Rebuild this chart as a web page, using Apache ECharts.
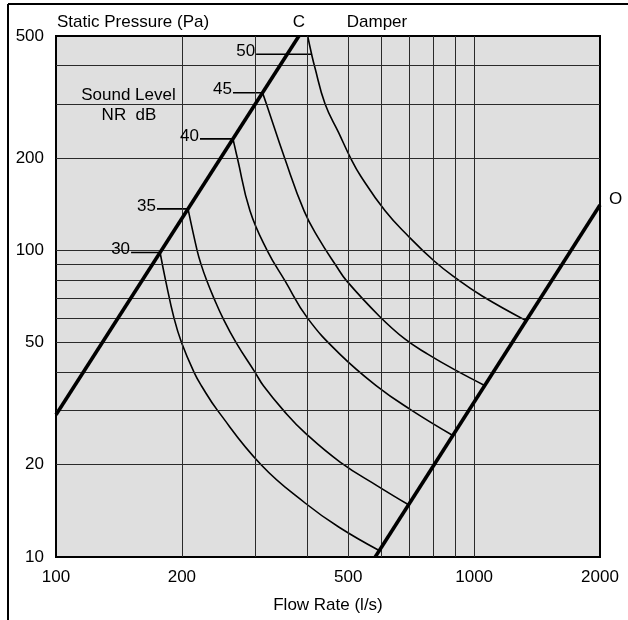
<!DOCTYPE html>
<html>
<head>
<meta charset="utf-8">
<script src="https://cdn.jsdelivr.net/npm/echarts@6/dist/echarts.min.js"></script>
<style>
  html, body { margin: 0; padding: 0; background: #ffffff; }
  #chart { width: 628px; height: 620px; }
</style>
</head>
<body>
<div id="chart"></div>
<script>
// Axis ticks (labelled) and grid values, flow rate in l/s, pressure in Pa
const flowTicks = [100, 200, 500, 1000, 2000];
const pressureTicks = [10, 20, 50, 100, 200, 500];
const flowGrid = [200, 300, 400, 500, 600, 700, 800, 900, 1000];
const pressureGrid = [20, 30, 40, 50, 60, 70, 80, 90, 100, 200, 300, 400];

// Damper characteristic: C = closed, O = open  [flow, pressure]
const damperClosed = [[100, 29.1], [381, 500]];
const damperOpen = [[580, 10], [2000, 140.6]];

// Sound level curves, NR dB  [flow, pressure]
const nr30 = [[177.4, 98.4], [182.8, 80], [191.6, 60], [199.7, 50], [213.9, 40], [222.9, 36.1], [244.1, 29.9], [309.4, 20], [394.2, 15], [475.4, 12.5], [592.7, 10.5]];
const nr35 = [[206.9, 136.5], [217.5, 100], [222.3, 90], [229.1, 80], [238.4, 70], [250.9, 60], [269.6, 50], [299.3, 40], [313.7, 36.1], [351.2, 29.9], [394.2, 25.4], [478, 20.4], [589.3, 17], [697, 14.8]];
const nr40 = [[265, 231], [271.5, 200], [291, 134.5], [319.8, 100], [353, 79.5], [400, 60], [478, 45.8], [585, 36.1], [703, 30.3], [889.5, 24.9]];
const nr45 = [[311.9, 326.6], [318.6, 300], [352.2, 200], [392, 134.5], [423.6, 110], [471.5, 87.6], [495.5, 79.5], [592.7, 61.1], [683.9, 51.3], [776.2, 45.8], [895.6, 40.9], [1062, 36.2]];
const nr50 = [[399.8, 500], [408.6, 436.1], [415, 400], [440.1, 300], [474.2, 242], [506.5, 200], [535.3, 174.8], [612.4, 134.5], [695.3, 111.4], [802.4, 92.3], [900.6, 81.5], [1045, 71], [1334.6, 58.9]];

// Curve labels and their leader lines (start flow, end flow, pressure)
const nrLabels = ['30', '35', '40', '45', '50'];
const leaderStart = [151.2, 174.4, 221, 265, 301];
const leaderEnd = [177.4, 206.9, 265, 311.9, 408.6];
const leaderPressure = [98.4, 136.5, 231, 326.6, 436.1];

const FONT = "'Liberation Sans', Arial, Helvetica, sans-serif";
const chart = echarts.init(document.getElementById('chart'), null, { renderer: 'canvas' });

const curveSeries = [nr30, nr35, nr40, nr45, nr50].map((d, i) => ({
  name: 'NR ' + nrLabels[i],
  type: 'line',
  data: d,
  smooth: 0.45,
  showSymbol: false,
  symbol: 'none',
  lineStyle: { color: '#000', width: 1.6 },
  z: 4,
  silent: true
}));

const leaderSeries = nrLabels.map((t, i) => ({
  name: 'leader ' + t,
  type: 'line',
  data: [[leaderStart[i], leaderPressure[i]], [leaderEnd[i], leaderPressure[i]]],
  showSymbol: false,
  symbol: 'none',
  lineStyle: { color: '#000', width: 1.6 },
  z: 4,
  silent: true
}));

const textLabel = { color: '#000', fontSize: 17, fontFamily: FONT, opacity: 1 };

const labelSeries = {
  name: 'levels',
  type: 'scatter',
  symbolSize: 0,
  itemStyle: { color: '#000', opacity: 1 },
  silent: true,
  z: 6,
  data: nrLabels.map((t, i) => ({
    value: [leaderStart[i], leaderPressure[i]],
    label: Object.assign({ show: true, formatter: t, position: 'left', distance: 1, offset: [0, -3] }, textLabel)
  }))
};

const damperLabelSeries = {
  name: 'damper ends',
  type: 'scatter',
  symbolSize: 0,
  itemStyle: { color: '#000', opacity: 1 },
  silent: true,
  z: 6,
  clip: false,
  data: [
    { value: damperClosed[1], label: Object.assign({ show: true, formatter: 'C', position: 'top', distance: 5 }, textLabel) },
    { value: damperOpen[1], label: Object.assign({ show: true, formatter: 'O', position: 'right', distance: 9, offset: [0, -6] }, textLabel) }
  ]
};

const gridLineSeries = {
  name: 'grid lines',
  type: 'line',
  data: [],
  silent: true,
  z: 2,
  markLine: {
    silent: true,
    symbol: ['none', 'none'],
    animation: false,
    label: { show: false },
    lineStyle: { color: '#2a2a2a', width: 1, type: 'solid' },
    emphasis: { disabled: true },
    data: flowGrid.map(v => ({ xAxis: v })).concat(pressureGrid.map(v => ({ yAxis: v })))
  }
};

const damperStyle = { color: '#000', width: 3.6 };

const option = {
  animation: false,
  backgroundColor: '#ffffff',
  textStyle: { fontFamily: FONT },
  grid: {
    left: 56, right: 28, top: 36, bottom: 63,
    show: true,
    backgroundColor: '#dfdfdf',
    borderColor: '#000',
    borderWidth: 2
  },
  xAxis: {
    type: 'log',
    logBase: 10,
    min: 100,
    max: 2000,
    name: 'Flow Rate (l/s)',
    nameLocation: 'middle',
    nameGap: 40,
    nameTextStyle: { color: '#000', fontSize: 17, fontFamily: FONT },
    axisLine: { show: false },
    axisTick: { show: false, customValues: flowTicks },
    splitLine: { show: false },
    axisLabel: { color: '#000', fontSize: 17, fontFamily: FONT, margin: 12, customValues: flowTicks, formatter: v => String(Math.round(v)) }
  },
  yAxis: {
    type: 'log',
    logBase: 10,
    min: 10,
    max: 500,
    axisLine: { show: false },
    axisTick: { show: false, customValues: pressureTicks },
    splitLine: { show: false },
    axisLabel: { color: '#000', fontSize: 17, fontFamily: FONT, margin: 12, customValues: pressureTicks, formatter: v => String(Math.round(v)) }
  },
  graphic: [
    { type: 'line', shape: { x1: 8, y1: 4, x2: 628, y2: 4 }, style: { stroke: '#000', lineWidth: 2 }, silent: true },
    { type: 'line', shape: { x1: 8, y1: 4, x2: 8, y2: 620 }, style: { stroke: '#000', lineWidth: 2 }, silent: true },
    { type: 'text', left: 57, top: 14, silent: true,
      style: { text: 'Static Pressure (Pa)', fill: '#000', font: '17px ' + FONT } },
    { type: 'text', x: 377, y: 22.5, silent: true,
      style: { text: 'Damper', fill: '#000', font: '17px ' + FONT, align: 'center', verticalAlign: 'middle' } },
    { type: 'text', x: 128.5, y: 95.5, silent: true, z: 10,
      style: { text: 'Sound Level', fill: '#000', font: '17px ' + FONT, align: 'center', verticalAlign: 'middle' } },
    { type: 'text', x: 129, y: 115, silent: true, z: 10,
      style: { text: 'NR  dB', fill: '#000', font: '17px ' + FONT, align: 'center', verticalAlign: 'middle' } }
  ],
  series: [
    gridLineSeries,
    {
      name: 'Damper closed',
      type: 'line',
      data: damperClosed,
      showSymbol: false,
      symbol: 'none',
      lineStyle: damperStyle,
      z: 5,
      silent: true
    },
    {
      name: 'Damper open',
      type: 'line',
      data: damperOpen,
      showSymbol: false,
      symbol: 'none',
      lineStyle: damperStyle,
      z: 5,
      silent: true
    }
  ].concat(curveSeries, leaderSeries, [labelSeries, damperLabelSeries])
};

chart.setOption(option);
</script>
</body>
</html>
